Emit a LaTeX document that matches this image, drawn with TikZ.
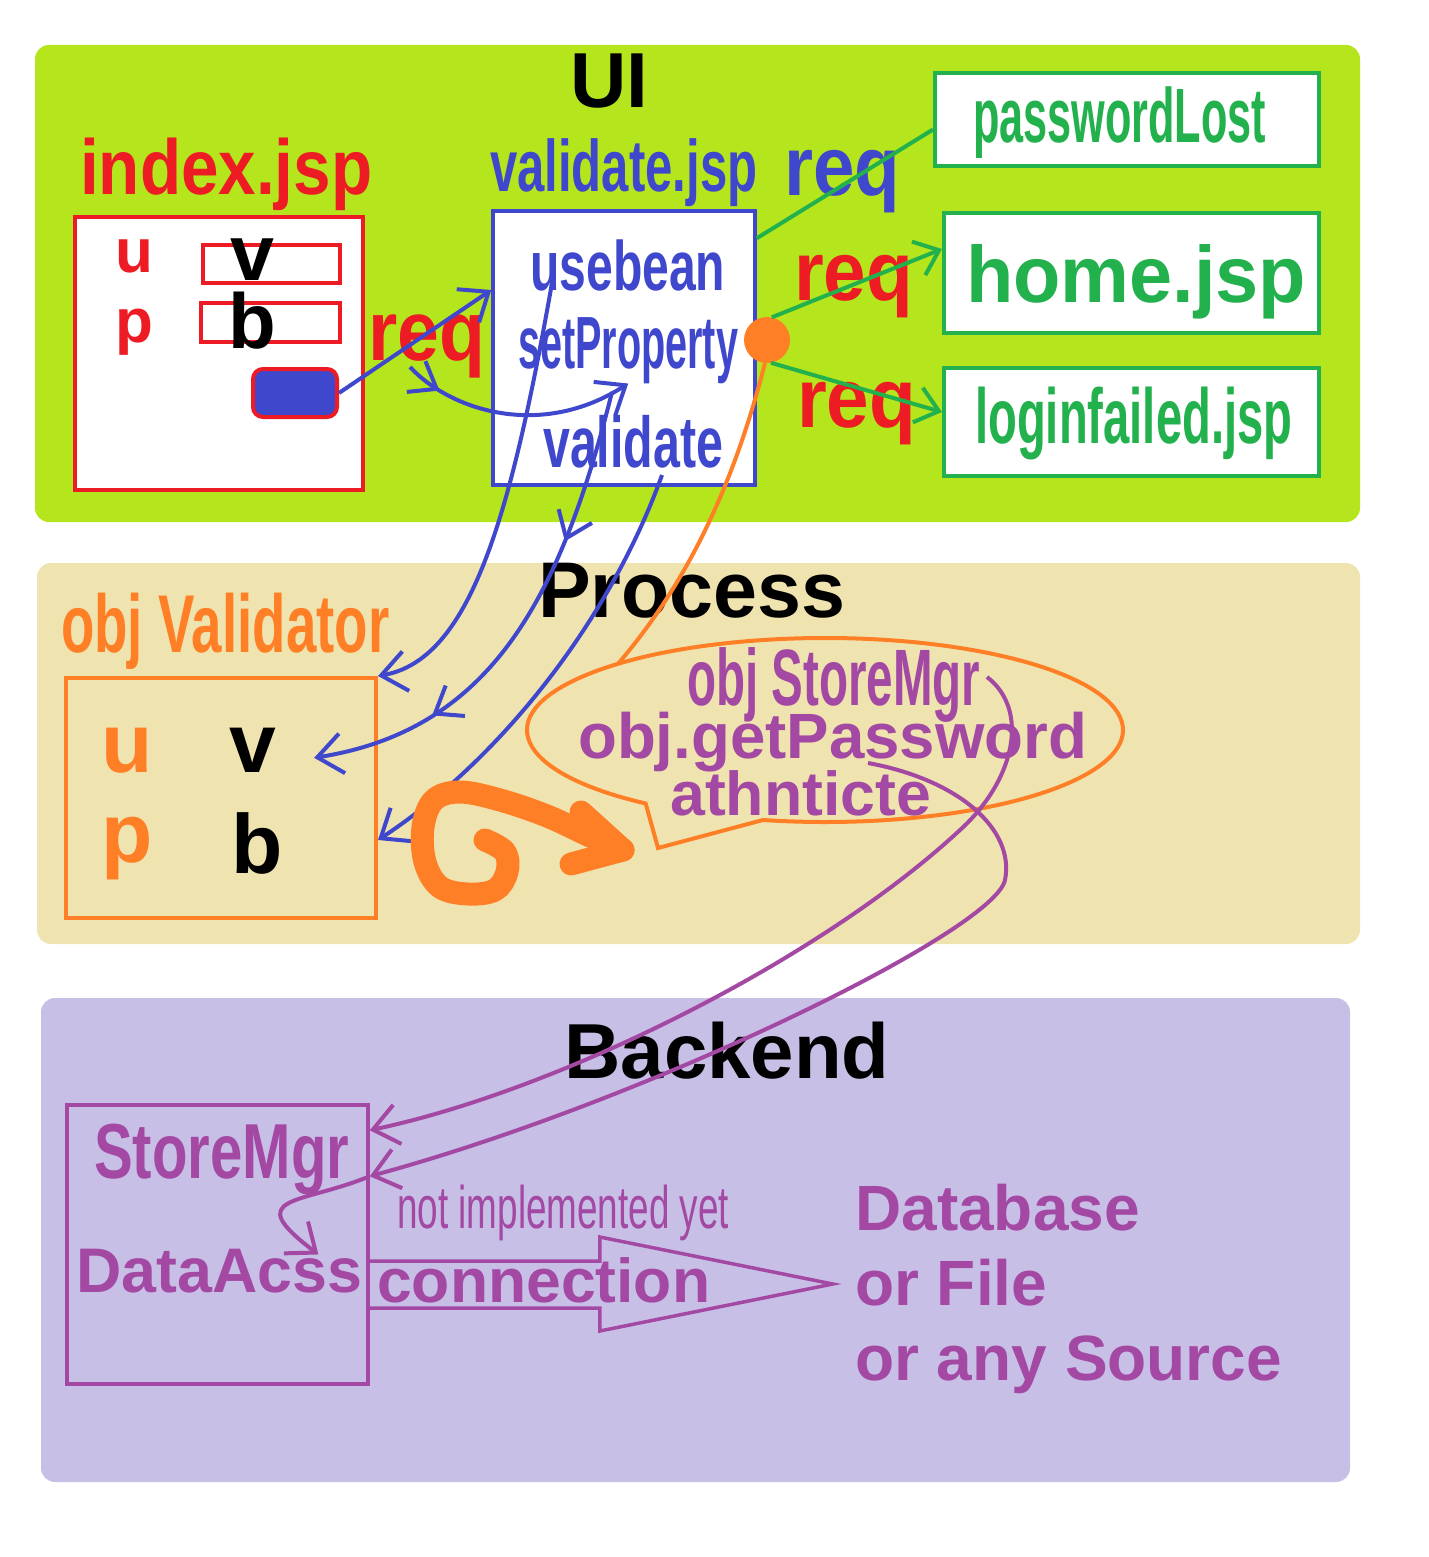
\documentclass[tikz,border=0pt]{standalone}
\usepackage{fontspec}
\setmainfont{Liberation Sans}
\usetikzlibrary{positioning,arrows.meta,decorations.markings,calc}

\definecolor{uigreen}{HTML}{B5E61D}
\definecolor{proctan}{HTML}{EFE4B0}
\definecolor{backlav}{HTML}{C8BFE7}
\definecolor{pred}{HTML}{ED1C24}
\definecolor{pblue}{HTML}{3F48CC}
\definecolor{pgreen}{HTML}{22B14C}
\definecolor{porange}{HTML}{FF7F27}
\definecolor{ppurple}{HTML}{A349A4}

\newcommand{\fsz}[1]{\fontsize{#1}{#1}\selectfont\bfseries}
\newcommand{\nar}[2]{\resizebox{#1pt}{\height}{#2}}

\begin{document}
\begin{tikzpicture}[x=1pt, y=-1pt,
  panel/.style={fill=#1, rounded corners=14},
  box/.style={draw=#1, line width=4, fill=white, inner sep=0},
  field/.style={draw=pred, line width=3.5, fill=white, inner sep=0},
  txt/.style={inner sep=0, anchor=base west},
  barr/.style={pblue, line width=4, -{Straight Barb[length=25pt,width=40pt]}},
  garr/.style={pgreen, line width=4, -{Straight Barb[length=22pt,width=36pt]}},
  parr/.style={ppurple, line width=4, -{Straight Barb[length=25pt,width=40pt]}},
  midarr/.style={postaction={decorate}, decoration={markings,
      mark=at position #1 with {\arrow{Straight Barb[length=24pt,width=36pt]}}}},
  twomid/.style={postaction={decorate}, decoration={markings,
      mark=at position 0.31 with {\arrow{Straight Barb[length=24pt,width=36pt]}},
      mark=at position 0.75 with {\arrow{Straight Barb[length=24pt,width=36pt]}}}},
  spiral/.style={porange, line width=23, line cap=round, line join=round}]
\useasboundingbox (0,0) rectangle (1428,1557);

% layers
\fill[panel=uigreen] (35,45) rectangle (1360,522);
\fill[panel=proctan] (37,563) rectangle (1360,944);
\fill[panel=backlav] (41,998) rectangle (1350,1482);

% UI
\node[txt, anchor=base, font=\fsz{78}] (uititle) at (609,108) {UI};
\node[txt, text=pred, font=\fsz{78}] (indexlbl) at (80,195) {\nar{292}{index.jsp}};
\node[box=pred, minimum width=288, minimum height=273] (index) at (219,353.5) {};
\node[field, minimum width=137, minimum height=38] (ufield) at (271.5,264) {};
\node[field, minimum width=139, minimum height=39] (pfield) at (270.5,322.5) {};
\node[txt, text=pred, font=\fsz{62}] (ulbl) at (115,272) {u};
\node[txt, text=pred, font=\fsz{62}] (plbl) at (115,342) {p};
\node[txt, font=\fsz{79}] (uval) at (230,280) {v};
\node[txt, font=\fsz{78}] (pval) at (228,348) {b};
\node[draw=pred, fill=pblue, line width=4, rounded corners=10,
  minimum width=84, minimum height=48, inner sep=0] (submit) at (295,393) {};
\node[txt, text=pred, font=\fsz{85}] (req1) at (368,360) {\nar{117}{req}};

\node[txt, text=pblue, font=\fsz{73}] (vjsplbl) at (490,192) {\nar{267}{validate.jsp}};
\node[box=pblue, line width=3.5, minimum width=262, minimum height=274] (validate) at (624,348) {};
\node[txt, text=pblue, font=\fsz{70}] (usebean) at (530,290) {\nar{195}{usebean}};
\node[txt, text=pblue, font=\fsz{74}] (setprop) at (518,368) {\nar{220}{setProperty}};
\node[txt, text=pblue, font=\fsz{72}] (valid) at (543,467) {\nar{180}{validate}};

\node[txt, text=pblue, font=\fsz{84}] (req2) at (784,196) {\nar{116}{req}};
\node[txt, text=pred, font=\fsz{84}] (req3) at (794,300) {\nar{119}{req}};
\node[txt, text=pred, font=\fsz{84}] (req4) at (797,427) {\nar{119}{req}};

\node[box=pgreen, minimum width=384, minimum height=93] (pwlost) at (1127,119.5) {};
\node[box=pgreen, minimum width=375, minimum height=120] (home) at (1131.5,273) {};
\node[box=pgreen, minimum width=375, minimum height=108] (loginf) at (1131.5,422) {};
\node[txt, text=pgreen, font=\fsz{77}] (pwlbl) at (973,143) {\nar{293}{passwordLost}};
\node[txt, text=pgreen, font=\fsz{80}] (homelbl) at (966,302) {\nar{340}{home.jsp}};
\node[txt, text=pgreen, font=\fsz{78}] (loginlbl) at (975,443) {\nar{317}{loginfailed.jsp}};
\node[circle, fill=porange, minimum size=46, inner sep=0] (dot) at (767,340) {};

% Process
\node[txt, anchor=base, font=\fsz{79}] (proctitle) at (692,617) {Process};
\node[txt, text=porange, font=\fsz{82}] (vallbl) at (61,652) {\nar{328}{obj Validator}};
\node[draw=porange, line width=4, inner sep=0, minimum width=310, minimum height=240] (validator) at (221,798) {};
\node[txt, text=porange, font=\fsz{84}] (ulbl2) at (101,772) {u};
\node[txt, font=\fsz{84}] (vval) at (229,772) {v};
\node[txt, text=porange, font=\fsz{84}] (plbl2) at (101,862) {p};
\node[txt, font=\fsz{84}] (bval) at (231,873) {b};
\coordinate (bubble) at (825,730);

% Backend
\node[txt, anchor=base, font=\fsz{78}] (backtitle) at (727,1078) {Backend};
\node[draw=ppurple, line width=3.5, inner sep=0, minimum width=301, minimum height=279] (sm) at (217.5,1244.5) {};
\node[txt, text=ppurple, font=\fsz{78}] (smlbl) at (94,1178) {\nar{255}{StoreMgr}};
\node[txt, text=ppurple, font=\fsz{63}] (da) at (76,1292) {\nar{286}{DataAcss}};
\node[txt, text=ppurple, font=\fontsize{60}{60}\selectfont] (notyet) at (397,1228) {\nar{332}{not implemented yet}};
\node[txt, text=ppurple, font=\fsz{64}] (db1) at (855,1230) {Database};
\node[txt, text=ppurple, font=\fsz{64}] (db2) at (855,1305) {or File};
\node[txt, text=ppurple, font=\fsz{64}] (db3) at (855,1380) {or any Source};
\draw[ppurple, line width=3.5] ($(sm.east)+(0,16.5)$) -- ++(230,0) -- ++(0,-24)
  -- ++(233,47) -- ++(-233,47) -- ++(0,-23) -- ($(sm.east)+(0,63.5)$);
\node[txt, text=ppurple, font=\fsz{62}] (conn) at (377,1302) {\nar{333}{connection}};

% green requests
\draw[pgreen, line width=4] ($(validate.north east)+(0,29)$) -- ($(pwlost.west)+(0,10)$);
\draw[garr] (dot.78) -- ($(home.west)+(0,-24)$);
\draw[garr] (dot.-80) -- ($(loginf.west)+(0,-10)$);

% blue flows
\coordinate (reqtail) at (410,367);
\coordinate (beanout) at (552,283);
\coordinate (propout) at (612,392);
\coordinate (valout) at (662,475);
\draw[barr] (submit.east) -- ($(validate.west)+(0,-58)$);
\draw[barr, midarr=0.16] (reqtail) .. controls (450,410) and (540,440) .. (setprop.south);
\draw[barr] (beanout) .. controls (510,520) and (470,660) .. (validator.north east);
\draw[barr, twomid] (propout) .. controls (560,600) and (490,730) .. ($(vval.east)+(38,8)$);
\draw[barr] (valout) .. controls (610,620) and (500,760) .. ($(validator.east)+(0,42)$);

% orange link and bubble
\draw[porange, line width=4] (dot.-95) .. controls (735,480) and (690,580) .. ($(bubble)+(226:298 and 92)$);
\draw[porange, line width=4, line join=miter] (658,848) -- ($(bubble)+(127:298 and 92)$)
  arc[start angle=127, end angle=462, x radius=298, y radius=92] -- cycle;
\node[txt, text=ppurple, font=\fsz{80}] (osm) at (687,705) {\nar{293}{obj StoreMgr}};
\node[txt, text=ppurple, font=\fsz{64}] (getpw) at (578,758) {\nar{509}{obj.getPassword}};
\node[txt, text=ppurple, font=\fsz{62}] (auth) at (670,815) {\nar{261}{athnticte}};

% purple calls
\coordinate (mgrout) at (987,677);
\coordinate (pwout) at (868,763);
\coordinate (smin) at ($(sm.north east)+(0,73)$);
\draw[parr] (mgrout) .. controls (1030,710) and (1015,780) .. (960,830)
  .. controls (820,960) and (560,1090) .. ($(sm.north east)+(0,27)$);
\draw[parr] (pwout) .. controls (960,780) and (1015,830) .. (1005,880)
  .. controls (995,930) and (650,1100) .. (smin);
\draw[parr] (smin) .. controls (300,1205) and (240,1195) .. ($(da.north east)+(-44,6)$);

% spiral
\draw[spiral] plot[smooth, tension=0.6] coordinates {(485,840) (505,852) (507,872) (495,890)
  (468,894) (440,887) (425,862) (423,827) (434,800) (460,792) (500,800) (547,816) (590,836) (623,850)};
\draw[spiral] (581,812) -- (623,850) -- (571,864);
\end{tikzpicture}
\end{document}
